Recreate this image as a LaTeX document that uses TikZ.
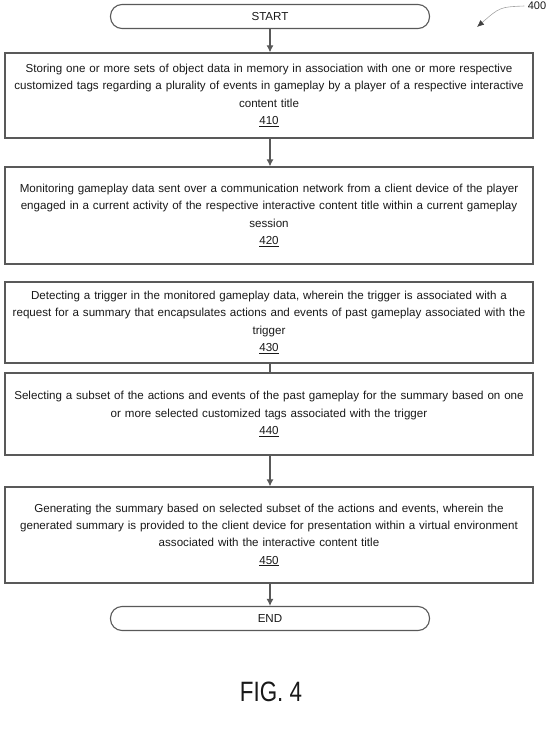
\documentclass[tikz,border=0pt]{standalone}
\usepackage{fontspec}
\setmainfont{Liberation Sans}
\newfontfamily\figfont{Liberation Sans}[FakeStretch=0.8]
\usetikzlibrary{arrows.meta}
\begin{document}
\begin{tikzpicture}[x=1pt, y=-1pt,
    every node/.style={font=\fontsize{11.6}{17.3}\selectfont, text=black!90},
    terminal/.style={draw=black!65, line width=1.1pt, rounded corners=11.5pt, minimum width=319pt, minimum height=24pt, inner sep=0pt},
    stepbox/.style={draw=black!65, line width=1.2pt, minimum width=528pt, text width=527pt, align=center, inner sep=0pt},
    flow/.style={draw=black!65, line width=1.2pt, -{Latex[length=7pt, width=7pt]}}]
  \useasboundingbox (0,0) rectangle (550,730);

  \node[terminal] (start) at (270,16.5) {START};
  \node[stepbox, minimum height=85pt] (s410) at (269,95.5)
    {Storing one or more sets of object data in memory in association with one or more respective\\
     customized tags regarding a plurality of events in gameplay by a player of a respective interactive\\
     content title\\ \underline{410}};
  \node[stepbox, minimum height=97pt] (s420) at (269,215.5)
    {Monitoring gameplay data sent over a communication network from a client device of the player\\
     engaged in a current activity of the respective interactive content title within a current gameplay\\
     session\\ \underline{420}};
  \node[stepbox, minimum height=81pt] (s430) at (269,322.5)
    {Detecting a trigger in the monitored gameplay data, wherein the trigger is associated with a\\
     request for a summary that encapsulates actions and events of past gameplay associated with the\\
     trigger\\ \underline{430}};
  \node[stepbox, minimum height=82pt] (s440) at (269,414)
    {Selecting a subset of the actions and events of the past gameplay for the summary based on one\\
     or more selected customized tags associated with the trigger\\ \underline{440}};
  \node[stepbox, minimum height=96pt] (s450) at (269,535)
    {Generating the summary based on selected subset of the actions and events, wherein the\\
     generated summary is provided to the client device for presentation within a virtual environment\\
     associated with the interactive content title\\ \underline{450}};
  \node[terminal] (end) at (270,618.5) {END};

  % connectors
  \draw[flow] (start.south) -- (start.south |- s410.north);
  \draw[flow] (start.south |- s410.south) -- (start.south |- s420.north);
  \draw[draw=black!65, line width=1.2pt] (start.south |- s430.south) -- (start.south |- s440.north);
  \draw[flow] (start.south |- s440.south) -- (start.south |- s450.north);
  \draw[flow] (start.south |- s450.south) -- (end.north);

  % figure number
  \node[font=\fontsize{11}{12}\selectfont] (ref400) at (537,6) {400};
  \coordinate (ref400tip) at (477,27);
  \draw[black!35, line width=0.6pt, -{Latex[color=black!75, length=7pt, width=6pt]}]
    (ref400.west) .. controls (500,7) .. (ref400tip);

  \node[font=\figfont\fontsize{28}{30}\selectfont] (figlabel) at (271,692) {FIG. 4};
\end{tikzpicture}
\end{document}
